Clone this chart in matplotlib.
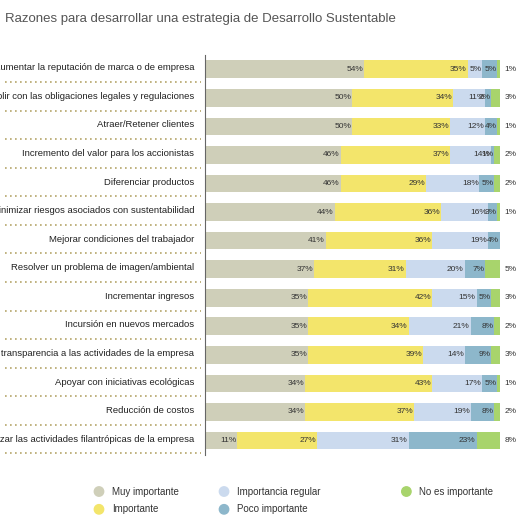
import matplotlib
matplotlib.use("Agg")
import matplotlib.pyplot as plt
import matplotlib.transforms as mtransforms
import numpy as np

plt.rcParams['font.family'] = ['Liberation Sans Narrow', 'Liberation Sans', 'DejaVu Sans']

categories = ["Aumentar la reputación de marca o de empresa",
 "Cumplir con las obligaciones legales y regulaciones",
 "Atraer/Retener clientes",
 "Incremento del valor para los accionistas",
 "Diferenciar productos",
 "Minimizar riesgos asociados con sustentabilidad",
 "Mejorar condiciones del trabajador",
 "Resolver un problema de imagen/ambiental",
 "Incrementar ingresos",
 "Incursión en nuevos mercados",
 "Dar transparencia a las actividades de la empresa",
 "Apoyar con iniciativas ecológicas",
 "Reducción de costos",
 "Canalizar las actividades filantrópicas de la empresa"]
muy_importante = [54, 50, 50, 46, 46, 44, 41, 37, 35, 35, 35, 34, 34, 11]
importante = [35, 34, 33, 37, 29, 36, 36, 31, 42, 34, 39, 43, 37, 27]
regular = [5, 11, 12, 14, 18, 16, 19, 20, 15, 21, 14, 17, 19, 31]
poco = [5, 2, 4, 1, 5, 3, 4, 7, 5, 8, 9, 5, 8, 23]
no_es = [1, 3, 1, 2, 2, 1, 0, 5, 3, 2, 3, 1, 2, 8]
series_names = ["Muy importante", "Importante", "Importancia regular", "Poco importante", "No es importante"]
colors = ["#cfcfb9", "#f3e56b", "#cbdaee", "#8db7cb", "#a8d46c"]

series = np.array([muy_importante, importante, regular, poco, no_es], dtype=float)
totals = series.sum(axis=0)
norm = series / totals * 100

fig = plt.figure(figsize=(5.21, 5.24), dpi=100)
ax = fig.add_axes([0.393, 0.132, 0.567, 0.763])
y = np.arange(len(categories))
left = np.zeros(len(categories))
for i, (name, col) in enumerate(zip(series_names, colors)):
    ax.barh(y, norm[i], left=left, height=0.62, color=col, label=name)
    for j in range(len(categories)):
        v = series[i, j]
        if v == 0:
            continue
        if i == 4:
            ax.text(101.5, y[j], f"{int(v)}%", va="center", ha="left", fontsize=6, color="#333333")
        else:
            ax.text(left[j] + norm[i, j] - 0.3, y[j], f"{int(v)}%", va="center", ha="right",
                    fontsize=6, color="#333333")
    left += norm[i]

ax.set_xlim(0, 100)
ax.set_ylim(len(categories) - 0.5, -0.5)
ax.set_xticks([]); ax.set_yticks([])
for s in ["top", "right", "bottom"]:
    ax.spines[s].set_visible(False)
ax.spines["left"].set_color("#666666")

trans = mtransforms.blended_transform_factory(fig.transFigure, ax.transData)
for j, c in enumerate(categories):
    ax.text(0.373, y[j] - 0.05, c, transform=trans, ha="right", va="center", fontsize=6.8, color="#222222")
    ax.plot([0.01, 0.385], [y[j] + 0.45, y[j] + 0.45], transform=trans, clip_on=False,
            color="#b5a56a", lw=1.2, ls=(0, (1, 2)))

fig.text(0.01, 0.975, "Razones para desarrollar una estrategia de Desarrollo Sustentable",
         fontsize=9.5, color="#555555", va="top", ha="left")

pos = [(0.19, 0.062), (0.19, 0.028), (0.43, 0.062), (0.43, 0.028), (0.78, 0.062)]
for (px, py), i in zip(pos, range(5)):
    fig.patches.append(plt.Circle((px, py), 0.009, transform=fig.transFigure, color=colors[i]))
    fig.text(px + 0.025, py, series_names[i], fontsize=7, va="center", ha="left", color="#333333")

fig.savefig("out.png", dpi=100)
